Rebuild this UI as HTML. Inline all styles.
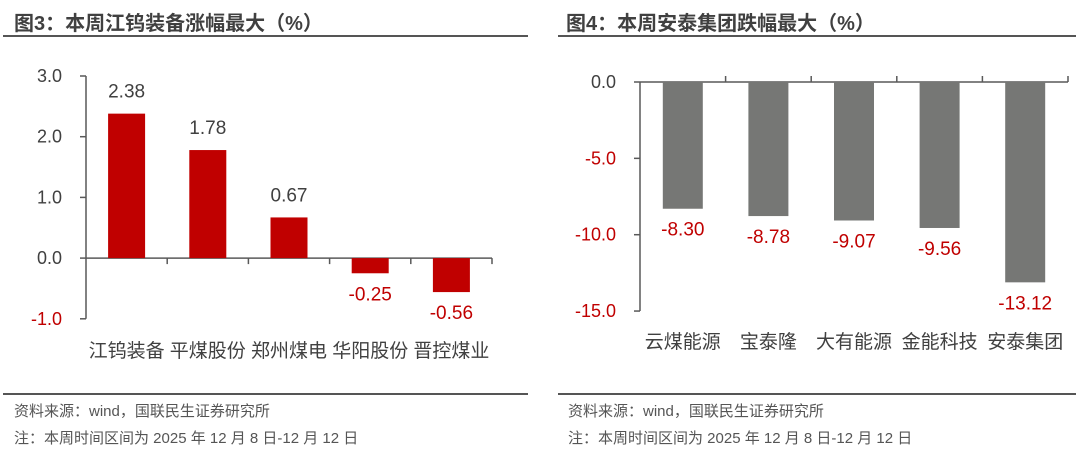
<!DOCTYPE html>
<html><head><meta charset="utf-8"><style>
body{margin:0;background:#fff;width:1080px;height:465px;overflow:hidden;font-family:"Liberation Sans","Noto Sans CJK SC",sans-serif}
svg text{font-family:"Liberation Sans","Noto Sans CJK SC",sans-serif}
</style></head><body>
<svg width="1080" height="465" xmlns="http://www.w3.org/2000/svg">
<text x="14" y="30" font-size="20" font-weight="bold" fill="#404040">图3：本周江钨装备涨幅最大（%）</text>
<line x1="3" y1="36" x2="528" y2="36" stroke="#555" stroke-width="2"/>
<text x="566" y="30" font-size="20" font-weight="bold" fill="#404040">图4：本周安泰集团跌幅最大（%）</text>
<line x1="558" y1="36" x2="1076" y2="36" stroke="#555" stroke-width="2"/>
<g id="left"></g>
<g id="right"></g>
<line x1="3" y1="394" x2="528" y2="394" stroke="#555" stroke-width="2"/>
<line x1="558" y1="394" x2="1076" y2="394" stroke="#555" stroke-width="2"/>
<text x="14" y="416" font-size="15" fill="#555">资料来源：wind，国联民生证券研究所</text>
<text x="14" y="443" font-size="15" fill="#555">注：本周时间区间为 2025 年 12 月 8 日-12 月 12 日</text>
<text x="568" y="416" font-size="15" fill="#555">资料来源：wind，国联民生证券研究所</text>
<text x="568" y="443" font-size="15" fill="#555">注：本周时间区间为 2025 年 12 月 8 日-12 月 12 日</text>
</svg>
<script>
const leftCats=["江钨装备","平煤股份","郑州煤电","华阳股份","晋控煤业"];
const leftVals=[2.38,1.78,0.67,-0.25,-0.56];
const leftTicks=[3,2,1,0,-1];
const rightCats=["云煤能源","宝泰隆","大有能源","金能科技","安泰集团"];
const rightVals=[-8.30,-8.78,-9.07,-9.56,-13.12];
const rightTicks=[0,-5,-10,-15];
const NS="http://www.w3.org/2000/svg";
function mk(p,t,a,txt){const e=document.createElementNS(NS,t);for(const k in a)e.setAttribute(k,a[k]);if(txt!=null)e.textContent=txt;p.appendChild(e);return e;}
function draw(g,cats,vals,ticks,o){
 const y=v=>o.y0+(o.vmax-v)*o.ppu;
 const cw=(o.x1-o.x0)/cats.length;
 const ax=mk(g,'line',{x1:o.x0,y1:y(o.vmax),x2:o.x0,y2:y(o.vmin),stroke:'#595959','stroke-width':1.5});
 
 ticks.forEach(t=>{
  const tl=mk(g,'line',{x1:o.x0-6,y1:y(t),x2:o.x0,y2:y(t),stroke:'#595959','stroke-width':1.5});
  
  const tx=mk(g,'text',{x:o.x0-24,y:y(t)+6,'font-size':18,'text-anchor':'end',fill:t<0?'#c00000':'#404040'},t.toFixed(1));
  
 });
 const xa=mk(g,'line',{x1:o.x0,y1:y(0),x2:o.x1,y2:y(0),stroke:'#595959','stroke-width':1.5});
 
 cats.forEach((c,i)=>{
  const bx=o.x0+cw*(i+1);
  const tk=mk(g,'line',{x1:bx,y1:y(0),x2:bx,y2:y(0)+o.tickDir*6,stroke:'#595959','stroke-width':1.5});
  
  const cx=o.x0+cw*(i+0.5),v=vals[i];
  const r=mk(g,'rect',{x:cx-o.bw/2,y:Math.min(y(v),y(0)),width:o.bw,height:Math.abs(y(v)-y(0)),fill:o.color});
  
  const ly=v>=0?y(v)-16:y(v)+27;
  const lt=mk(g,'text',{x:cx,y:ly,'font-size':19,'text-anchor':'middle',fill:v<0?'#c00000':'#404040'},v.toFixed(2));
  
  const ct=mk(g,'text',{x:cx,y:o.catY,'font-size':19,'text-anchor':'middle',fill:'#404040'},c);
  
 });
}
draw(document.getElementById('left'),leftCats,leftVals,leftTicks,{x0:86,x1:492,y0:76,vmax:3,vmin:-1,ppu:60.7,bw:37,color:'#c00000',catY:357,tickDir:1});
draw(document.getElementById('right'),rightCats,rightVals,rightTicks,{x0:640,x1:1068,y0:82,vmax:0,vmin:-15,ppu:15.27,bw:40,color:'#767775',catY:348,tickDir:-1});
</script>
</body></html>
